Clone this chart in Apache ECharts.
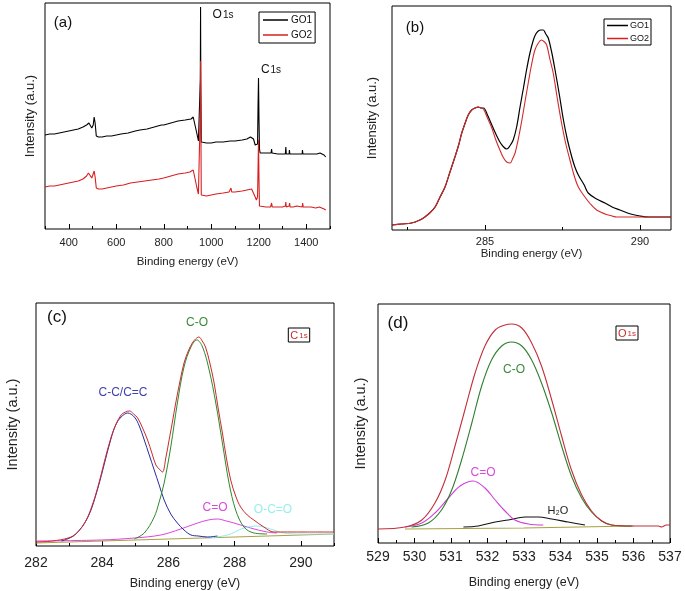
<!DOCTYPE html>
<html><head><meta charset="utf-8">
<script src="https://cdn.jsdelivr.net/npm/echarts@6/dist/echarts.min.js"></script>
<style>html,body{margin:0;padding:0;background:#fff}#c{width:685px;height:591px}</style>
</head><body><div id="c"></div>
<script>
// ---------- Panel (a): survey spectra ----------
const surveyGO1 = [[300,94],[320,95],[340,95],[360,96],[380,97],[400,98],[420,99],[440,100],[460,102],[475,104],[485,106],[492,107],[497,101],[503,104],[507,112],[511,106],[516,93],[525,92],[540,92],[560,93],[580,93],[600,94],[620,95],[650,96],[680,98],[700,99],[730,100],[760,102],[790,104],[800,104],[830,106],[860,108],[890,109],[915,110],[924,112],[930,111],[939,96],[946,88],[951,86],[954,150],[955,222],[956,150],[958,87],[961,86],[980,86],[1000,86],[1020,87],[1050,87],[1080,88],[1100,88],[1130,89],[1150,90],[1165,92],[1170,93],[1178,90],[1185,84],[1190,82],[1195,85],[1197,123],[1199,151],[1201,110],[1203,80],[1206,76],[1220,76],[1240,76],[1252,76],[1254,80],[1256,76],[1280,75],[1300,75],[1312,75],[1314,82],[1316,75],[1328,75],[1329,79],[1331,75],[1360,75],[1383,75],[1384,79],[1386,75],[1420,75],[1445,75],[1452,77],[1458,76],[1465,75],[1475,74],[1482,72]];
const surveyGO2 = [[300,42],[320,43],[340,43],[360,44],[380,45],[400,46],[420,47],[440,48],[460,50],[475,53],[483,56],[490,55],[497,51],[503,53],[507,58],[511,52],[516,41],[525,40],[540,40],[560,41],[580,42],[600,43],[630,44],[660,46],[690,47],[720,48],[750,49],[780,50],[800,51],[830,53],[860,55],[890,56],[910,57],[924,59],[930,58],[939,42],[946,35],[951,34],[954,120],[955,168],[956,120],[958,34],[961,32],[980,33],[1000,34],[1020,35],[1050,36],[1075,37],[1083,41],[1086,37],[1100,37],[1130,38],[1150,39],[1170,40],[1178,38],[1185,32],[1190,29],[1195,32],[1197,60],[1199,89],[1201,50],[1203,23],[1206,22],[1230,22],[1250,22],[1254,26],[1257,22],[1280,22],[1300,22],[1312,23],[1314,27],[1316,22],[1328,23],[1330,26],[1332,22],[1345,22],[1360,23],[1383,22],[1385,26],[1387,22],[1400,22],[1420,22],[1440,21],[1455,22],[1465,21],[1475,20],[1482,19]];
const surveyLabels = [400,600,800,1000,1200,1400];
const surveyMinor = [300,500,700,900,1100,1300,1500];

// ---------- Panel (b): C1s high resolution ----------
const c1sGO1 = [[282.0,5],[282.3,6],[282.63,7],[282.9,10],[283.06,13],[283.25,18],[283.39,23],[283.55,33],[283.71,43],[283.87,58],[284.03,73],[284.15,85],[284.25,97],[284.36,107],[284.46,115],[284.57,120],[284.68,122],[284.78,123],[284.88,122],[284.95,122],[285.08,115],[285.22,105],[285.35,96],[285.48,88],[285.6,83],[285.7,81],[285.8,84],[285.91,90],[286.02,103],[286.13,123],[286.24,142],[286.34,160],[286.45,177],[286.56,190],[286.64,196],[286.72,199],[286.8,200],[286.88,200],[286.96,196],[287.04,192],[287.15,178],[287.26,160],[287.4,135],[287.53,110],[287.66,90],[287.8,73],[287.9,63],[288.01,55],[288.2,45],[288.33,37],[288.6,31],[288.87,27],[289.1,23],[289.35,20],[289.7,16],[290.0,14],[290.3,13],[290.6,13],[291,13]];
const c1sGO2 = [[282.0,5],[282.3,6],[282.63,7],[282.9,10],[283.06,13],[283.25,18],[283.39,23],[283.55,33],[283.71,43],[283.87,58],[284.03,73],[284.15,85],[284.25,97],[284.36,107],[284.46,115],[284.57,120],[284.68,122],[284.78,123],[284.88,122],[284.95,121],[285.08,112],[285.22,102],[285.35,90],[285.48,80],[285.6,72],[285.7,68],[285.81,67],[285.9,72],[285.97,77],[286.1,95],[286.19,110],[286.3,130],[286.4,148],[286.5,165],[286.61,180],[286.72,187],[286.82,190],[286.92,188],[286.99,185],[287.1,170],[287.2,157],[287.33,132],[287.47,107],[287.6,87],[287.74,70],[287.87,55],[288.01,43],[288.2,34],[288.4,26],[288.6,20],[288.87,16],[289.1,14],[289.25,13],[289.7,13],[290.3,13],[291,13]];
const c1sLabels = [285,290];
const c1sMinor = [282.5,287.5];

// ---------- Panel (c): C1s deconvolution ----------
const c1sFitEnvelope = [[282,4],[282.5,5],[282.97,8],[283.2,12],[283.47,23],[283.67,38],[283.87,59],[284.07,85],[284.27,109],[284.42,122],[284.57,131],[284.7,134],[284.82,135],[284.95,132],[285.07,128],[285.22,118],[285.37,106],[285.5,93],[285.62,81],[285.72,77],[285.82,74],[285.92,88],[286.02,106],[286.12,124],[286.22,143],[286.35,165],[286.47,183],[286.6,195],[286.72,203],[286.82,207],[286.92,209],[287.02,205],[287.12,199],[287.25,183],[287.38,163],[287.5,138],[287.63,113],[287.75,88],[287.88,66],[288.03,50],[288.18,39],[288.38,31],[288.58,26],[288.88,19],[289.18,14],[289.6,14],[290.2,14],[291,14]];
const c1sCC = [[282.77,5],[283.17,11],[283.57,29],[283.87,58],[284.07,83],[284.27,108],[284.42,122],[284.57,129],[284.77,133],[284.97,129],[285.12,120],[285.27,106],[285.42,91],[285.57,76],[285.72,61],[285.87,46],[286.07,32],[286.27,23],[286.47,16],[286.68,11],[286.9,10],[287.18,9],[287.48,10]];
const c1sCO = [[284.97,7],[285.27,13],[285.57,29],[285.72,44],[285.87,63],[286.07,99],[286.27,143],[286.47,179],[286.68,199],[286.86,206],[287.03,199],[287.23,176],[287.43,143],[287.63,103],[287.83,63],[288.03,36],[288.28,19],[288.58,13],[288.98,12]];
const c1sCdO = [[282,5],[283.97,6],[284.97,8],[285.77,11],[286.37,17],[286.88,23],[287.2,26],[287.48,27],[287.75,25],[287.98,23],[288.48,18],[288.98,14],[289.28,13]];
const c1sOCdO = [[287.18,8],[287.78,11],[288.28,18],[288.68,20],[289.08,17],[289.48,13],[290,12],[291,12]];
const c1sBackground = [[282,3],[286,7],[291,12]];
const c1sFitLabels = [282,284,286,288,290];
const c1sFitMinor = [283,285,287,289,291];

// ---------- Panel (d): O1s deconvolution ----------
const o1sEnvelope = [[529,14],[529.74,16],[530.2,23],[530.56,40],[530.84,63],[531.11,97],[531.38,133],[531.66,170],[531.93,197],[532.21,213],[532.48,218],[532.66,219],[532.94,215],[533.21,200],[533.48,177],[533.76,143],[534.03,107],[534.3,73],[534.58,48],[534.85,32],[535.13,22],[535.4,18],[535.95,17],[536.68,17],[536.77,16],[536.9,18],[537,18]];
const o1sCO = [[529.92,16],[530.38,20],[530.74,33],[531.02,53],[531.29,83],[531.57,120],[531.84,157],[532.11,183],[532.39,197],[532.66,201],[532.94,197],[533.21,183],[533.48,160],[533.76,130],[534.03,97],[534.3,67],[534.58,45],[534.85,31],[535.13,22],[535.4,18],[535.95,17]];
const o1sCdO = [[529.74,16],[530.2,20],[530.56,30],[530.93,45],[531.25,57],[531.61,62],[531.93,55],[532.21,43],[532.48,32],[532.75,23],[533.12,19],[533.53,18]];
const o1sH2O = [[531.34,16],[531.75,17],[532.21,21],[532.57,23],[533.03,26],[533.39,26],[533.76,24],[534.21,21],[534.67,18]];
const o1sBackground = [[529.74,14],[533,15],[536,17]];
const o1sLabels = [529,530,531,532,533,534,535,536,537];
const o1sMinor = [529.5,530.5,531.5,532.5,533.5,534.5,535.5,536.5];

const FONT = '"Liberation Sans", Arial, sans-serif';
const TXT = '#222';

function grid(left, top, width, height) {
  return {left, top, width, height, show: true, borderColor: '#000', borderWidth: 1, backgroundColor: 'transparent', containLabel: false};
}
function mainX(g, min, max, labels, fs, margin, nameGap, nameFs) {
  return {type: 'value', gridIndex: g, min, max, position: 'bottom',
    axisLine: {show: false}, splitLine: {show: false},
    axisTick: {show: true, inside: true, length: 5, customValues: labels, lineStyle: {color: '#000'}},
    axisLabel: {customValues: labels, fontSize: fs, margin, color: TXT, fontFamily: FONT, formatter: v => String(v)},
    name: 'Binding energy (eV)', nameLocation: 'middle', nameGap,
    nameTextStyle: {fontSize: nameFs, color: TXT, fontFamily: FONT}};
}
function minorX(g, min, max, ticks) {
  return {type: 'value', gridIndex: g, min, max, position: 'bottom',
    axisLine: {show: false}, splitLine: {show: false}, axisLabel: {show: false},
    axisTick: {show: true, inside: true, length: 3, customValues: ticks, lineStyle: {color: '#000'}}};
}
function yAx(g, max, nameGap, fs) {
  return {type: 'value', gridIndex: g, min: 0, max,
    axisLine: {show: false}, axisTick: {show: false}, axisLabel: {show: false}, splitLine: {show: false},
    name: 'Intensity (a.u.)', nameLocation: 'middle', nameRotate: 90, nameGap,
    nameTextStyle: {fontSize: fs, color: TXT, fontFamily: FONT}};
}
function line(name, xi, yi, data, color, width, smooth) {
  return {type: 'line', name, xAxisIndex: xi, yAxisIndex: yi, data, symbol: 'none',
    smooth: smooth ? 0.35 : false, silent: true,
    lineStyle: {color, width}, itemStyle: {color}};
}
function txt(x, y, text, color, fs, extra) {
  return {type: 'text', x, y, silent: true,
    style: Object.assign({text, fill: color, font: fs + 'px ' + FONT, align: 'center', verticalAlign: 'middle'}, extra || {})};
}
function sub(big, small, color, fb, fs) {
  return {o: {fontSize: fb, fontFamily: FONT, fill: color, color}, s: {fontSize: fs, fontFamily: FONT, fill: color, color, padding: [1, 0, 0, 1]}};
}

const option = {
  animation: false,
  backgroundColor: '#fff',
  textStyle: {fontFamily: FONT},
  grid: [grid(45, 3, 285, 226), grid(392, 6, 279, 224), grid(36, 303, 298, 243), grid(378, 304, 292, 239)],
  xAxis: [
    mainX(0, 300, 1500, surveyLabels, 11, 8, 27, 11.5), minorX(0, 300, 1500, surveyMinor),
    mainX(1, 282, 291, c1sLabels, 11, 6, 17, 11.5), minorX(1, 282, 291, c1sMinor),
    mainX(2, 282, 291, c1sFitLabels, 14, 10, 31, 12.5), minorX(2, 282, 291, c1sFitMinor),
    mainX(3, 529, 537, o1sLabels, 14, 7, 33, 12.5), minorX(3, 529, 537, o1sMinor)
  ],
  yAxis: [yAx(0, 226, 8, 13), yAx(1, 224, 13, 13), yAx(2, 243, 16, 14.5), yAx(3, 239, 10, 14.5)],
  legend: [
    {data: ['GO1', 'GO2'], orient: 'vertical', left: 259, top: 12, borderColor: '#000', borderWidth: 1,
      padding: [3, 3, 3, 4], itemWidth: 25, itemHeight: 1.5, itemGap: 5, icon: 'rect', selectedMode: false,
      textStyle: {fontSize: 10, color: '#111', fontFamily: FONT, padding: [0, 0, 0, -2]}},
    {data: ['GO1', 'GO2'], orient: 'vertical', left: 604, top: 19, borderColor: '#000', borderWidth: 1,
      padding: [2, 2, 2, 3], itemWidth: 21, itemHeight: 1.5, itemGap: 4, icon: 'rect', selectedMode: false,
      textStyle: {fontSize: 9, color: '#111', fontFamily: FONT, padding: [0, 0, 0, -3]}}
  ],
  series: [
    line('GO1', 0, 0, surveyGO1, '#000', 1.1, false),
    line('GO2', 0, 0, surveyGO2, '#d81e1e', 1.1, false),
    line('GO1', 2, 1, c1sGO1, '#000', 1.2, true),
    line('GO2', 2, 1, c1sGO2, '#d42a2a', 1.1, true),
    line('bg-c', 4, 2, c1sBackground, '#a8a040', 1, false),
    line('C=O', 4, 2, c1sCdO, '#dd44dd', 1, true),
    line('O-C=O', 4, 2, c1sOCdO, '#8eeeee', 1, true),
    line('C-C/C=C', 4, 2, c1sCC, '#2a2aa0', 1, true),
    line('C-O', 4, 2, c1sCO, '#2b8a2b', 1, true),
    line('envelope-c', 4, 2, c1sFitEnvelope, '#cc2a2a', 1, true),
    line('bg-d', 6, 3, o1sBackground, '#a8a040', 1.2, false),
    line('H2O', 6, 3, o1sH2O, '#111', 1.1, true),
    line('C=O d', 6, 3, o1sCdO, '#d040d8', 1.1, true),
    line('C-O d', 6, 3, o1sCO, '#2f7f2f', 1.1, true),
    line('envelope-d', 6, 3, o1sEnvelope, '#c0303a', 1.1, true)
  ],
  graphic: [
    txt(63, 23, '(a)', '#111', 15),
    txt(223, 15, '{o|O}{s|1s}', '#111', 12, {rich: sub('O', '1s', '#111', 12, 10)}),
    txt(271, 70, '{o|C}{s|1s}', '#111', 12, {rich: sub('C', '1s', '#111', 12, 10)}),
    txt(415, 28, '(b)', '#111', 15),
    txt(57, 317, '(c)', '#111', 17),
    txt(197, 323, 'C-O', '#3a8a3a', 12),
    txt(123, 393, 'C-C/C=C', '#4040b0', 12),
    txt(215, 508, 'C=O', '#d84ad8', 12),
    txt(273, 510, 'O-C=O', '#99eeee', 12),
    txt(299, 335, '{o|C}{s|1s}', '#cc2a2a', 11, {rich: sub('C', '1s', '#cc2a2a', 11, 8), borderColor: '#000', borderWidth: 1, padding: [2, 2, 1, 2]}),
    txt(398, 323, '(d)', '#111', 17),
    txt(514, 370, 'C-O', '#3a8a3a', 12),
    txt(483, 473, 'C=O', '#d84ad8', 12),
    txt(558, 511, 'H₂O', '#222', 11),
    txt(627, 333, '{o|O}{s|1s}', '#cc2a2a', 11, {rich: sub('O', '1s', '#cc2a2a', 11, 8), borderColor: '#000', borderWidth: 1, padding: [2, 2, 1, 2]})
  ]
};
const chart = echarts.init(document.getElementById('c'));
chart.setOption(option);
</script>
</body></html>
